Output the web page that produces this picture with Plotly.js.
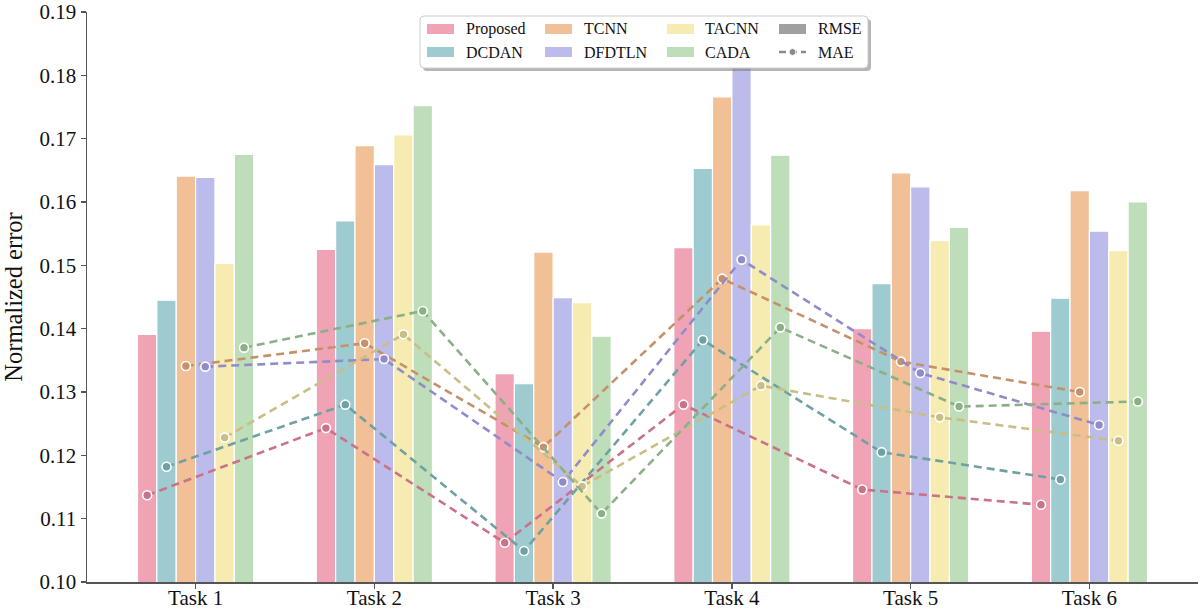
<!DOCTYPE html>
<html>
<head>
<meta charset="utf-8">
<script src="https://cdn.plot.ly/plotly-3.0.1.min.js"></script>
<style>html,body{margin:0;padding:0;background:#fff}#chart{width:1200px;height:610px}</style>
</head>
<body>
<div id="chart"></div>
<script>
const tasks = ["Task 1","Task 2","Task 3","Task 4","Task 5","Task 6"];
const methods = ["Proposed","DCDAN","TCNN","DFDTLN","TACNN","CADA"];
const yTicks = [0.10, 0.11, 0.12, 0.13, 0.14, 0.15, 0.16, 0.17, 0.18, 0.19];

// RMSE (bars)
const rmseProposed = [0.1391, 0.1525, 0.1329, 0.1528, 0.1400, 0.1396];
const rmseDCDAN    = [0.1445, 0.1570, 0.1313, 0.1653, 0.1471, 0.1448];
const rmseTCNN     = [0.1641, 0.1689, 0.1521, 0.1766, 0.1646, 0.1618];
const rmseDFDTLN   = [0.1639, 0.1659, 0.1449, 0.1830, 0.1624, 0.1554];
const rmseTACNN    = [0.1503, 0.1706, 0.1441, 0.1564, 0.1539, 0.1523];
const rmseCADA     = [0.1675, 0.1752, 0.1388, 0.1674, 0.1560, 0.1600];

// MAE (dashed lines)
const maeProposed = [0.1137, 0.1243, 0.1062, 0.1280, 0.1146, 0.1122];
const maeDCDAN    = [0.1182, 0.1280, 0.1049, 0.1382, 0.1205, 0.1162];
const maeTCNN     = [0.1341, 0.1377, 0.1213, 0.1479, 0.1348, 0.1300];
const maeDFDTLN   = [0.1340, 0.1352, 0.1158, 0.1509, 0.1330, 0.1248];
const maeTACNN    = [0.1228, 0.1391, 0.1151, 0.1310, 0.1260, 0.1223];
const maeCADA     = [0.1370, 0.1428, 0.1108, 0.1402, 0.1277, 0.1285];

const rmseAll = [rmseProposed, rmseDCDAN, rmseTCNN, rmseDFDTLN, rmseTACNN, rmseCADA];
const maeAll = [maeProposed, maeDCDAN, maeTCNN, maeDFDTLN, maeTACNN, maeCADA];
const barColors = ["#F0A3B5","#9DCBD0","#F2C097","#BBBCEB","#F6EBB1","#BEDEB9"];
const lineColors = ["#C9728A","#6FA0A3","#C6916A","#908CC9","#C9BE85","#8BAF87"];

// legend layout: entries in column-major order (2 rows x 4 columns)
const legendLabels = ["Proposed","DCDAN","TCNN","DFDTLN","TACNN","CADA","RMSE","MAE"];
const legendSwatch = barColors.concat(["#A0A0A0", "#8A8A8A"]);

const FONT = "Liberation Serif, Times New Roman, serif";
const M = {l: 87, r: 2, t: 12, b: 28};
const W = 1200, H = 610;
const PW = W - M.l - M.r, PH = H - M.t - M.b;
const px = p => (p - M.l) / PW;          // pixel x -> paper x
const py = p => (H - M.b - p) / PH;      // pixel y -> paper y

const traces = [];
methods.forEach((m, i) => {
  traces.push({
    type: "bar", x: tasks, y: rmseAll[i], name: m,
    marker: {color: barColors[i], line: {color: "#ffffff", width: 1.2}},
    hoverinfo: "skip"
  });
});
methods.forEach((m, i) => {
  traces.push({
    type: "scatter", mode: "lines+markers", x: tasks, y: maeAll[i], name: m + " MAE",
    line: {color: lineColors[i], width: 2.6, dash: "8px,5px"},
    marker: {color: lineColors[i], size: 9, line: {color: "#ffffff", width: 1.6}},
    hoverinfo: "skip"
  });
});

// manual legend (matplotlib-style framed box)
const LX0 = 420, LX1 = 868, LY0 = 16, LY1 = 68, R = 4;
const rowY = [29, 52];
const colSw = [427, 545, 667, 779];
const colTx = [464, 582, 703, 816];
const SW = 27, SH = 10;
function roundRect(x0, y0, x1, y1, r) {
  const X = v => px(v), Y = v => py(v);
  return `M${X(x0 + r)},${Y(y0)} L${X(x1 - r)},${Y(y0)} Q${X(x1)},${Y(y0)} ${X(x1)},${Y(y0 + r)} ` +
         `L${X(x1)},${Y(y1 - r)} Q${X(x1)},${Y(y1)} ${X(x1 - r)},${Y(y1)} ` +
         `L${X(x0 + r)},${Y(y1)} Q${X(x0)},${Y(y1)} ${X(x0)},${Y(y1 - r)} ` +
         `L${X(x0)},${Y(y0 + r)} Q${X(x0)},${Y(y0)} ${X(x0 + r)},${Y(y0)} Z`;
}
const shapes = [
  {type: "path", xref: "paper", yref: "paper", layer: "above", path: roundRect(LX0 + 3, LY0 + 3, LX1 + 3, LY1 + 3, R),
   fillcolor: "rgba(120,120,120,0.55)", line: {width: 0}},
  {type: "path", xref: "paper", yref: "paper", layer: "above", path: roundRect(LX0, LY0, LX1, LY1, R),
   fillcolor: "#ffffff", line: {color: "#cccccc", width: 1}}
];
const annotations = [];
legendLabels.forEach((lab, k) => {
  const c = Math.floor(k / 2), r = k % 2;
  const yc = rowY[r];
  if (lab === "MAE") {
    const x0 = colSw[c], x1 = colSw[c] + SW, xm = (x0 + x1) / 2;
    shapes.push({type: "line", xref: "paper", yref: "paper", layer: "above",
      x0: px(x0), x1: px(x1), y0: py(yc), y1: py(yc),
      line: {color: legendSwatch[k], width: 2.6, dash: "7px,4px"}});
    shapes.push({type: "circle", xref: "paper", yref: "paper", layer: "above",
      x0: px(xm - 3.5), x1: px(xm + 3.5), y0: py(yc + 3.5), y1: py(yc - 3.5),
      fillcolor: legendSwatch[k], line: {color: "#ffffff", width: 1}});
  } else {
    shapes.push({type: "rect", xref: "paper", yref: "paper", layer: "above",
      x0: px(colSw[c]), x1: px(colSw[c] + SW), y0: py(yc + SH / 2), y1: py(yc - SH / 2),
      fillcolor: legendSwatch[k], line: {width: 0}});
  }
  annotations.push({xref: "paper", yref: "paper", x: px(colTx[c]), y: py(yc),
    xanchor: "left", yanchor: "middle", showarrow: false, text: lab,
    font: {family: FONT, size: 16, color: "#111"}});
});

const layout = {
  width: W, height: H,
  margin: M,
  paper_bgcolor: "#ffffff", plot_bgcolor: "#ffffff",
  font: {family: FONT, color: "#111"},
  barmode: "group", bargap: 0.35, bargroupgap: 0,
  scattermode: "group", scattergap: 0.35,
  showlegend: false,
  xaxis: {
    type: "category", range: [-0.6075, 5.6075],
    showline: true, linecolor: "#555", linewidth: 1.5, mirror: false,
    ticks: "outside", ticklen: 5, tickwidth: 1.5, tickcolor: "#555",
    ticklabelstandoff: -9,
    showgrid: false, zeroline: false,
    tickfont: {family: FONT, size: 21, color: "#111"}
  },
  yaxis: {
    range: [0.10, 0.19], tickmode: "array", tickvals: yTicks, tickformat: ".2f",
    ticklabeloverflow: "allow",
    showline: true, linecolor: "#555", linewidth: 1.5,
    ticks: "outside", ticklen: 5, tickwidth: 1.5, tickcolor: "#555",
    showgrid: false, zeroline: false,
    tickfont: {family: FONT, size: 21, color: "#111"},
    title: {text: "Normalized error", font: {family: FONT, size: 24.5, color: "#111"}, standoff: 10}
  },
  shapes: shapes,
  annotations: annotations
};

Plotly.newPlot("chart", traces, layout, {displayModeBar: false, staticPlot: true});
</script>
</body>
</html>
